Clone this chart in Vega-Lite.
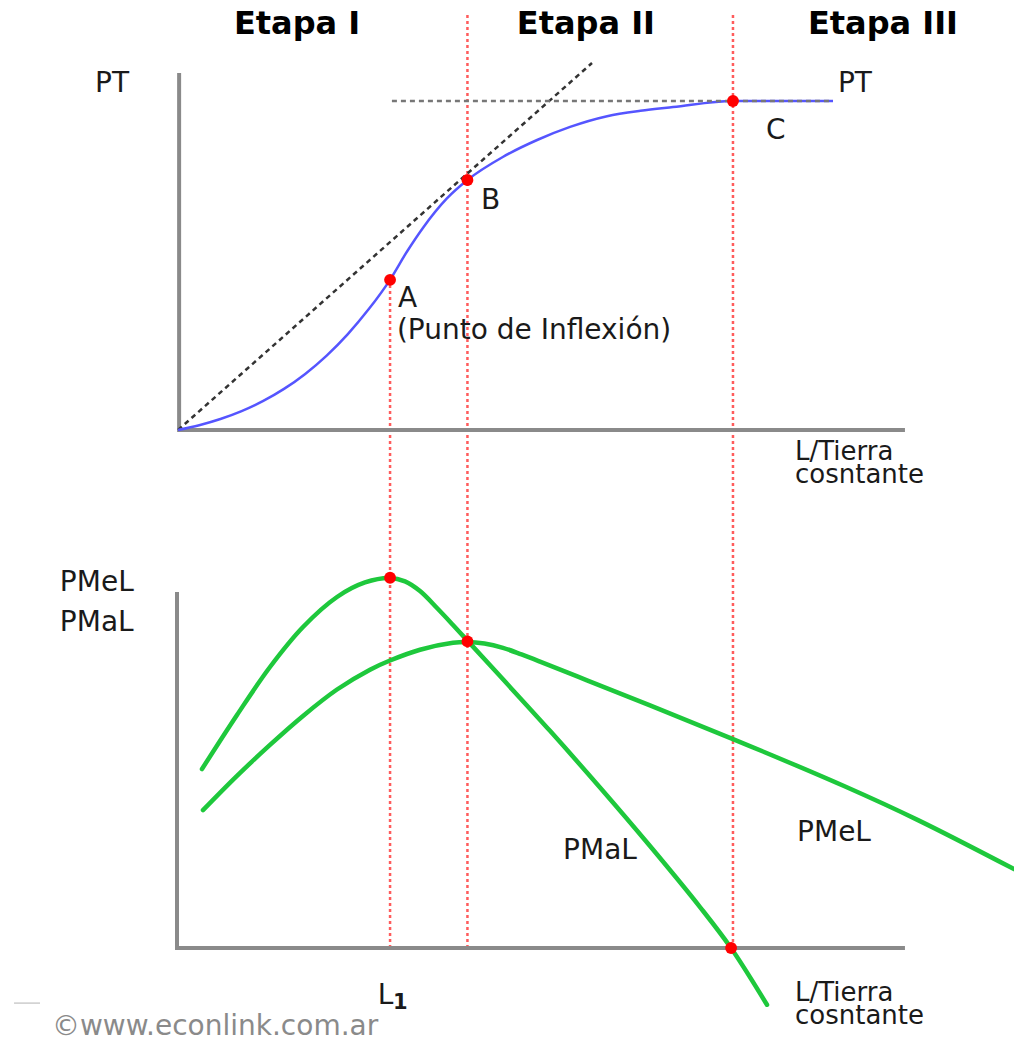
{
  "$schema": "https://vega.github.io/schema/vega-lite/v6.json",
  "width": 1014,
  "height": 1041,
  "autosize": {"type": "none"},
  "padding": 0,
  "background": "white",
  "config": {"view": {"stroke": null}},
  "datasets": {
    "stages": [
      {"L": 8.04, "lo": 0, "hi": 20.27},
      {"L": 10.96, "lo": 0, "hi": 28.3},
      {"L": 20.98, "lo": 0, "hi": 28.3}
    ],
    "topAxes": [
      {"L": 0.08, "L2": 0.08, "v": -0.06, "v2": 10.82},
      {"L": 0.04, "L2": 27.47, "v": 0, "v2": 0}
    ],
    "botAxes": [
      {"L": 0, "L2": 0, "v": -0.06, "v2": 10.79},
      {"L": 0, "L2": 27.47, "v": 0, "v2": 0}
    ],
    "tangent": [{"L": 0.04, "L2": 15.66, "v": 0, "v2": 11.12}],
    "ptMax": [{"L": 8.11, "L2": 24.75, "v": 9.97, "v2": 9.97}],
    "pt": [
      {"L": 0.04, "PT": 0},
      {"L": 0.838, "PT": 0.145},
      {"L": 1.638, "PT": 0.333},
      {"L": 2.438, "PT": 0.573},
      {"L": 3.238, "PT": 0.873},
      {"L": 4.038, "PT": 1.245},
      {"L": 4.838, "PT": 1.7},
      {"L": 5.638, "PT": 2.248},
      {"L": 6.438, "PT": 2.9},
      {"L": 7.238, "PT": 3.664},
      {"L": 8.038, "PT": 4.551},
      {"L": 8.687, "PT": 5.418},
      {"L": 9.279, "PT": 6.124},
      {"L": 10.185, "PT": 7.018},
      {"L": 10.96, "PT": 7.576},
      {"L": 12.294, "PT": 8.273},
      {"L": 13.589, "PT": 8.788},
      {"L": 14.834, "PT": 9.185},
      {"L": 16.23, "PT": 9.509},
      {"L": 17.487, "PT": 9.673},
      {"L": 18.717, "PT": 9.785},
      {"L": 20.981, "PT": 9.97},
      {"L": 24.755, "PT": 9.97}
    ],
    "curves": [
      {"serie": "PMaL", "L": 0.943, "P": 5.424},
      {"serie": "PMaL", "L": 2.264, "P": 7.061},
      {"serie": "PMaL", "L": 3.509, "P": 8.515},
      {"serie": "PMaL", "L": 4.755, "P": 9.727},
      {"serie": "PMaL", "L": 6.038, "P": 10.636},
      {"serie": "PMaL", "L": 7.094, "P": 11.076},
      {"serie": "PMaL", "L": 8.038, "P": 11.212},
      {"serie": "PMaL", "L": 8.604, "P": 11.109},
      {"serie": "PMaL", "L": 9.17, "P": 10.815},
      {"serie": "PMaL", "L": 9.811, "P": 10.302},
      {"serie": "PMaL", "L": 10.415, "P": 9.789},
      {"serie": "PMaL", "L": 10.943, "P": 9.33},
      {"serie": "PMaL", "L": 12.189, "P": 8.24},
      {"serie": "PMaL", "L": 14.075, "P": 6.58},
      {"serie": "PMaL", "L": 15.962, "P": 4.863},
      {"serie": "PMaL", "L": 17.849, "P": 3.089},
      {"serie": "PMaL", "L": 19.736, "P": 1.24},
      {"serie": "PMaL", "L": 20.906, "P": 0},
      {"serie": "PMaL", "L": 22.264, "P": -1.72},
      {"serie": "PMeL", "L": 0.981, "P": 4.176},
      {"serie": "PMeL", "L": 2.264, "P": 5.215},
      {"serie": "PMeL", "L": 3.509, "P": 6.155},
      {"serie": "PMeL", "L": 4.755, "P": 7.033},
      {"serie": "PMeL", "L": 6.038, "P": 7.833},
      {"serie": "PMeL", "L": 7.283, "P": 8.433},
      {"serie": "PMeL", "L": 8.038, "P": 8.712},
      {"serie": "PMeL", "L": 9.17, "P": 9.039},
      {"serie": "PMeL", "L": 10.415, "P": 9.248},
      {"serie": "PMeL", "L": 10.943, "P": 9.273},
      {"serie": "PMeL", "L": 11.6, "P": 9.225},
      {"serie": "PMeL", "L": 12.3, "P": 9.095},
      {"serie": "PMeL", "L": 13.0, "P": 8.895},
      {"serie": "PMeL", "L": 13.698, "P": 8.679},
      {"serie": "PMeL", "L": 15.472, "P": 8.111},
      {"serie": "PMeL", "L": 17.849, "P": 7.35},
      {"serie": "PMeL", "L": 20.981, "P": 6.332},
      {"serie": "PMeL", "L": 25.17, "P": 4.908},
      {"serie": "PMeL", "L": 27.962, "P": 3.875},
      {"serie": "PMeL", "L": 31.585, "P": 2.39}
    ],
    "topDots": [
      {"L": 8.04, "PT": 4.551},
      {"L": 10.96, "PT": 7.576},
      {"L": 20.98, "PT": 9.97}
    ],
    "botDots": [
      {"L": 8.04, "P": 11.22},
      {"L": 10.96, "P": 9.29},
      {"L": 20.91, "P": 0}
    ],
    "titles": [
      {"L": 4.53, "v": 12.3, "t": "Etapa I"},
      {"L": 15.43, "v": 12.3, "t": "Etapa II"},
      {"L": 26.64, "v": 12.3, "t": "Etapa III"}
    ],
    "topLabels": [
      {"L": -3.09, "v": 10.48, "t": "PT"},
      {"L": 24.94, "v": 10.48, "t": "PT"},
      {"L": 22.23, "v": 9.05, "t": "C"},
      {"L": 11.47, "v": 6.93, "t": "B"},
      {"L": 8.34, "v": 3.96, "t": "A"},
      {"L": 8.3, "v": 3.0, "t": "(Punto de Inflexión)"}
    ],
    "botLabels": [
      {"L": -4.42, "v": 11.05, "t": "PMeL"},
      {"L": -4.42, "v": 9.84, "t": "PMaL"},
      {"L": 23.4, "v": 3.48, "t": "PMeL"},
      {"L": 14.57, "v": 2.93, "t": "PMaL"},
      {"L": 7.58, "v": -1.45, "t": "L"}
    ],
    "topAxisTitle": [{"L": 23.32, "v": -0.67, "t": "L/Tierra\ncosntante"}],
    "botAxisTitle": [{"L": 23.32, "v": -1.36, "t": "L/Tierra\ncosntante"}],
    "subscript": [{"L": 8.15, "v": -1.66, "t": "1"}],
    "footer": [{"L": -4.72, "v": -2.38, "t": "©www.econlink.com.ar"}],
    "mark": [{"L": -6.15, "L2": -5.17, "v": -1.67, "v2": -1.67}]
  },
  "resolve": {"scale": {"y": "independent"}},
  "layer": [
    {
      "data": {"name": "stages"},
      "mark": {"type": "rule", "color": "#ff5c5c", "strokeWidth": 2.5, "strokeDash": [3, 3]},
      "encoding": {
        "x": {"field": "L", "type": "quantitative", "scale": {"domain": [-6.6792, 31.5849], "nice": false, "zero": false}, "axis": null},
        "y": {"field": "lo", "type": "quantitative", "scale": {"domain": [-2.8182, 28.7273], "nice": false, "zero": false}, "axis": null},
        "y2": {"field": "hi"}
      }
    },
    {
      "data": {"name": "topAxes"},
      "mark": {"type": "rule", "color": "#8a8a8a", "strokeWidth": 4},
      "encoding": {
        "x": {"field": "L", "type": "quantitative", "scale": {"domain": [-6.6792, 31.5849], "nice": false, "zero": false}, "axis": null},
        "x2": {"field": "L2"},
        "y": {"field": "v", "type": "quantitative", "scale": {"domain": [-18.5152, 13.0303], "nice": false, "zero": false}, "axis": null},
        "y2": {"field": "v2"}
      }
    },
    {
      "data": {"name": "botAxes"},
      "mark": {"type": "rule", "color": "#8a8a8a", "strokeWidth": 4},
      "encoding": {
        "x": {"field": "L", "type": "quantitative", "scale": {"domain": [-6.6792, 31.5849], "nice": false, "zero": false}, "axis": null},
        "x2": {"field": "L2"},
        "y": {"field": "v", "type": "quantitative", "scale": {"domain": [-2.8182, 28.7273], "nice": false, "zero": false}, "axis": null},
        "y2": {"field": "v2"}
      }
    },
    {
      "data": {"name": "tangent"},
      "mark": {"type": "rule", "color": "#333333", "strokeWidth": 2.5, "strokeDash": [5, 4]},
      "encoding": {
        "x": {"field": "L", "type": "quantitative", "scale": {"domain": [-6.6792, 31.5849], "nice": false, "zero": false}, "axis": null},
        "x2": {"field": "L2"},
        "y": {"field": "v", "type": "quantitative", "scale": {"domain": [-18.5152, 13.0303], "nice": false, "zero": false}, "axis": null},
        "y2": {"field": "v2"}
      }
    },
    {
      "data": {"name": "pt"},
      "mark": {"type": "line", "color": "#5555ff", "strokeWidth": 2.5, "interpolate": "monotone"},
      "encoding": {
        "x": {"field": "L", "type": "quantitative", "scale": {"domain": [-6.6792, 31.5849], "nice": false, "zero": false}, "axis": null},
        "y": {"field": "PT", "type": "quantitative", "scale": {"domain": [-18.5152, 13.0303], "nice": false, "zero": false}, "axis": null}
      }
    },
    {
      "data": {"name": "ptMax"},
      "mark": {"type": "rule", "color": "#777777", "strokeWidth": 2.5, "strokeDash": [5, 4]},
      "encoding": {
        "x": {"field": "L", "type": "quantitative", "scale": {"domain": [-6.6792, 31.5849], "nice": false, "zero": false}, "axis": null},
        "x2": {"field": "L2"},
        "y": {"field": "v", "type": "quantitative", "scale": {"domain": [-18.5152, 13.0303], "nice": false, "zero": false}, "axis": null},
        "y2": {"field": "v2"}
      }
    },
    {
      "data": {"name": "curves"},
      "mark": {"type": "line", "color": "#1ec83c", "strokeWidth": 4.5, "interpolate": "catmull-rom", "strokeCap": "round"},
      "encoding": {
        "x": {"field": "L", "type": "quantitative", "scale": {"domain": [-6.6792, 31.5849], "nice": false, "zero": false}, "axis": null},
        "y": {"field": "P", "type": "quantitative", "scale": {"domain": [-2.8182, 28.7273], "nice": false, "zero": false}, "axis": null},
        "detail": {"field": "serie", "type": "nominal"}
      }
    },
    {
      "data": {"name": "topDots"},
      "mark": {"type": "point", "filled": true, "color": "#ff0000", "size": 140, "opacity": 1},
      "encoding": {
        "x": {"field": "L", "type": "quantitative", "scale": {"domain": [-6.6792, 31.5849], "nice": false, "zero": false}, "axis": null},
        "y": {"field": "PT", "type": "quantitative", "scale": {"domain": [-18.5152, 13.0303], "nice": false, "zero": false}, "axis": null}
      }
    },
    {
      "data": {"name": "botDots"},
      "mark": {"type": "point", "filled": true, "color": "#ff0000", "size": 140, "opacity": 1},
      "encoding": {
        "x": {"field": "L", "type": "quantitative", "scale": {"domain": [-6.6792, 31.5849], "nice": false, "zero": false}, "axis": null},
        "y": {"field": "P", "type": "quantitative", "scale": {"domain": [-2.8182, 28.7273], "nice": false, "zero": false}, "axis": null}
      }
    },
    {
      "data": {"name": "titles"},
      "mark": {"type": "text", "font": "DejaVu Sans", "fontWeight": "bold", "fontSize": 32, "align": "center", "baseline": "middle", "color": "#000000"},
      "encoding": {
        "x": {"field": "L", "type": "quantitative", "scale": {"domain": [-6.6792, 31.5849], "nice": false, "zero": false}, "axis": null},
        "y": {"field": "v", "type": "quantitative", "scale": {"domain": [-18.5152, 13.0303], "nice": false, "zero": false}, "axis": null},
        "text": {"field": "t", "type": "nominal"}
      }
    },
    {
      "data": {"name": "topLabels"},
      "mark": {"type": "text", "font": "DejaVu Sans", "fontSize": 28, "align": "left", "baseline": "middle", "color": "#1a1a1a"},
      "encoding": {
        "x": {"field": "L", "type": "quantitative", "scale": {"domain": [-6.6792, 31.5849], "nice": false, "zero": false}, "axis": null},
        "y": {"field": "v", "type": "quantitative", "scale": {"domain": [-18.5152, 13.0303], "nice": false, "zero": false}, "axis": null},
        "text": {"field": "t", "type": "nominal"}
      }
    },
    {
      "data": {"name": "botLabels"},
      "mark": {"type": "text", "font": "DejaVu Sans", "fontSize": 28, "align": "left", "baseline": "middle", "color": "#1a1a1a"},
      "encoding": {
        "x": {"field": "L", "type": "quantitative", "scale": {"domain": [-6.6792, 31.5849], "nice": false, "zero": false}, "axis": null},
        "y": {"field": "v", "type": "quantitative", "scale": {"domain": [-2.8182, 28.7273], "nice": false, "zero": false}, "axis": null},
        "text": {"field": "t", "type": "nominal"}
      }
    },
    {
      "data": {"name": "topAxisTitle"},
      "mark": {"type": "text", "font": "DejaVu Sans", "fontSize": 26, "align": "left", "baseline": "middle", "color": "#1a1a1a", "lineBreak": "\n", "lineHeight": 23},
      "encoding": {
        "x": {"field": "L", "type": "quantitative", "scale": {"domain": [-6.6792, 31.5849], "nice": false, "zero": false}, "axis": null},
        "y": {"field": "v", "type": "quantitative", "scale": {"domain": [-18.5152, 13.0303], "nice": false, "zero": false}, "axis": null},
        "text": {"field": "t", "type": "nominal"}
      }
    },
    {
      "data": {"name": "botAxisTitle"},
      "mark": {"type": "text", "font": "DejaVu Sans", "fontSize": 26, "align": "left", "baseline": "middle", "color": "#1a1a1a", "lineBreak": "\n", "lineHeight": 23},
      "encoding": {
        "x": {"field": "L", "type": "quantitative", "scale": {"domain": [-6.6792, 31.5849], "nice": false, "zero": false}, "axis": null},
        "y": {"field": "v", "type": "quantitative", "scale": {"domain": [-2.8182, 28.7273], "nice": false, "zero": false}, "axis": null},
        "text": {"field": "t", "type": "nominal"}
      }
    },
    {
      "data": {"name": "subscript"},
      "mark": {"type": "text", "font": "DejaVu Sans", "fontSize": 21, "fontWeight": "bold", "align": "left", "baseline": "middle", "color": "#1a1a1a"},
      "encoding": {
        "x": {"field": "L", "type": "quantitative", "scale": {"domain": [-6.6792, 31.5849], "nice": false, "zero": false}, "axis": null},
        "y": {"field": "v", "type": "quantitative", "scale": {"domain": [-2.8182, 28.7273], "nice": false, "zero": false}, "axis": null},
        "text": {"field": "t", "type": "nominal"}
      }
    },
    {
      "data": {"name": "footer"},
      "mark": {"type": "text", "font": "DejaVu Sans", "fontSize": 28, "align": "left", "baseline": "middle", "color": "#8a8a8a"},
      "encoding": {
        "x": {"field": "L", "type": "quantitative", "scale": {"domain": [-6.6792, 31.5849], "nice": false, "zero": false}, "axis": null},
        "y": {"field": "v", "type": "quantitative", "scale": {"domain": [-2.8182, 28.7273], "nice": false, "zero": false}, "axis": null},
        "text": {"field": "t", "type": "nominal"}
      }
    },
    {
      "data": {"name": "mark"},
      "mark": {"type": "rule", "color": "#cccccc", "strokeWidth": 1.5},
      "encoding": {
        "x": {"field": "L", "type": "quantitative", "scale": {"domain": [-6.6792, 31.5849], "nice": false, "zero": false}, "axis": null},
        "x2": {"field": "L2"},
        "y": {"field": "v", "type": "quantitative", "scale": {"domain": [-2.8182, 28.7273], "nice": false, "zero": false}, "axis": null},
        "y2": {"field": "v2"}
      }
    }
  ]
}
